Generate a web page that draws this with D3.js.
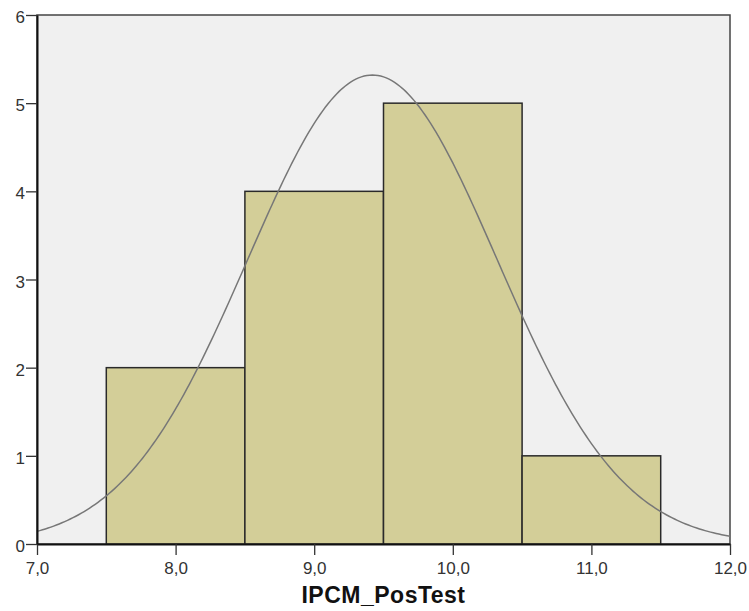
<!DOCTYPE html>
<meta charset="utf-8">
<style>
body { margin: 0; background: #fff; }
text { font-family: "Liberation Sans", Arial, sans-serif; }
</style>
<svg width="749" height="611"></svg>
<script src="https://cdn.jsdelivr.net/npm/d3@7"></script>
<script>
// histogram bins (lower edge, upper edge) and counts
var binStarts = [7.5, 8.5, 9.5, 10.5];
var binEnds = [8.5, 9.5, 10.5, 11.5];
var counts = [2, 4, 5, 1];
var xTicks = [7, 8, 9, 10, 11, 12];
var yTicks = [0, 1, 2, 3, 4, 5, 6];
// normal curve parameters
var curveMean = 9.42, curveSd = 0.90, curveN = 12, binWidth = 1;

var svg = d3.select("svg"),
    plotL = 37, plotR = 730, plotT = 15, plotB = 544;

var x = d3.scaleLinear().domain([7, 12]).range([plotL, plotR]);
var y = d3.scaleLinear().domain([0, 6]).range([plotB, plotT]);

// plot background
svg.append("rect")
    .attr("x", plotL).attr("y", plotT)
    .attr("width", plotR - plotL).attr("height", plotB - plotT)
    .attr("fill", "#f0f0f0")
    .attr("stroke", "#444").attr("stroke-width", 1.5);

// bars
svg.append("g").selectAll("rect")
  .data(counts)
  .enter().append("rect")
    .attr("x", function(d, i) { return x(binStarts[i]); })
    .attr("y", function(d) { return y(d); })
    .attr("width", function(d, i) { return x(binEnds[i]) - x(binStarts[i]); })
    .attr("height", function(d) { return y(0) - y(d); })
    .attr("fill", "#d3ce98")
    .attr("stroke", "#2a2a2a")
    .attr("stroke-width", 1.5);

// normal curve
var pts = d3.range(7, 12.0001, 0.02).map(function(v) {
  var z = (v - curveMean) / curveSd;
  return [v, curveN * binWidth / (curveSd * Math.sqrt(2 * Math.PI)) * Math.exp(-0.5 * z * z)];
});
svg.append("path")
    .datum(pts)
    .attr("fill", "none")
    .attr("stroke", "#777")
    .attr("stroke-width", 1.5)
    .attr("d", d3.line()
        .x(function(d) { return x(d[0]); })
        .y(function(d) { return y(d[1]); }));

// axes
var fmt = function(d) { return d.toFixed(1).replace(".", ","); };
var xAxis = svg.append("g")
    .attr("transform", "translate(0," + plotB + ")")
    .call(d3.axisBottom(x).tickValues(xTicks).tickFormat(fmt).tickSize(11).tickSizeOuter(0));
var yAxis = svg.append("g")
    .attr("transform", "translate(" + plotL + ",0)")
    .call(d3.axisLeft(y).tickValues(yTicks).tickFormat(d3.format("d")).tickSize(11).tickSizeOuter(0));

[xAxis, yAxis].forEach(function(g) {
  g.select(".domain").attr("stroke", "#111").attr("stroke-width", 2);
  g.selectAll(".tick line").attr("stroke", "#333").attr("stroke-width", 1.3);
  g.selectAll(".tick text").attr("fill", "#333").style("font-size", "17px");
});
xAxis.selectAll(".tick text").attr("y", 18).attr("dy", "0.71em");
yAxis.selectAll(".tick text").attr("x", -12).attr("dy", "0.45em");

svg.append("text")
    .attr("x", (plotL + plotR) / 2)
    .attr("y", 603)
    .attr("text-anchor", "middle")
    .attr("font-weight", "bold")
    .attr("font-size", "23px")
    .attr("letter-spacing", "0.5px")
    .attr("fill", "#111")
    .text("IPCM_PosTest");
</script>
